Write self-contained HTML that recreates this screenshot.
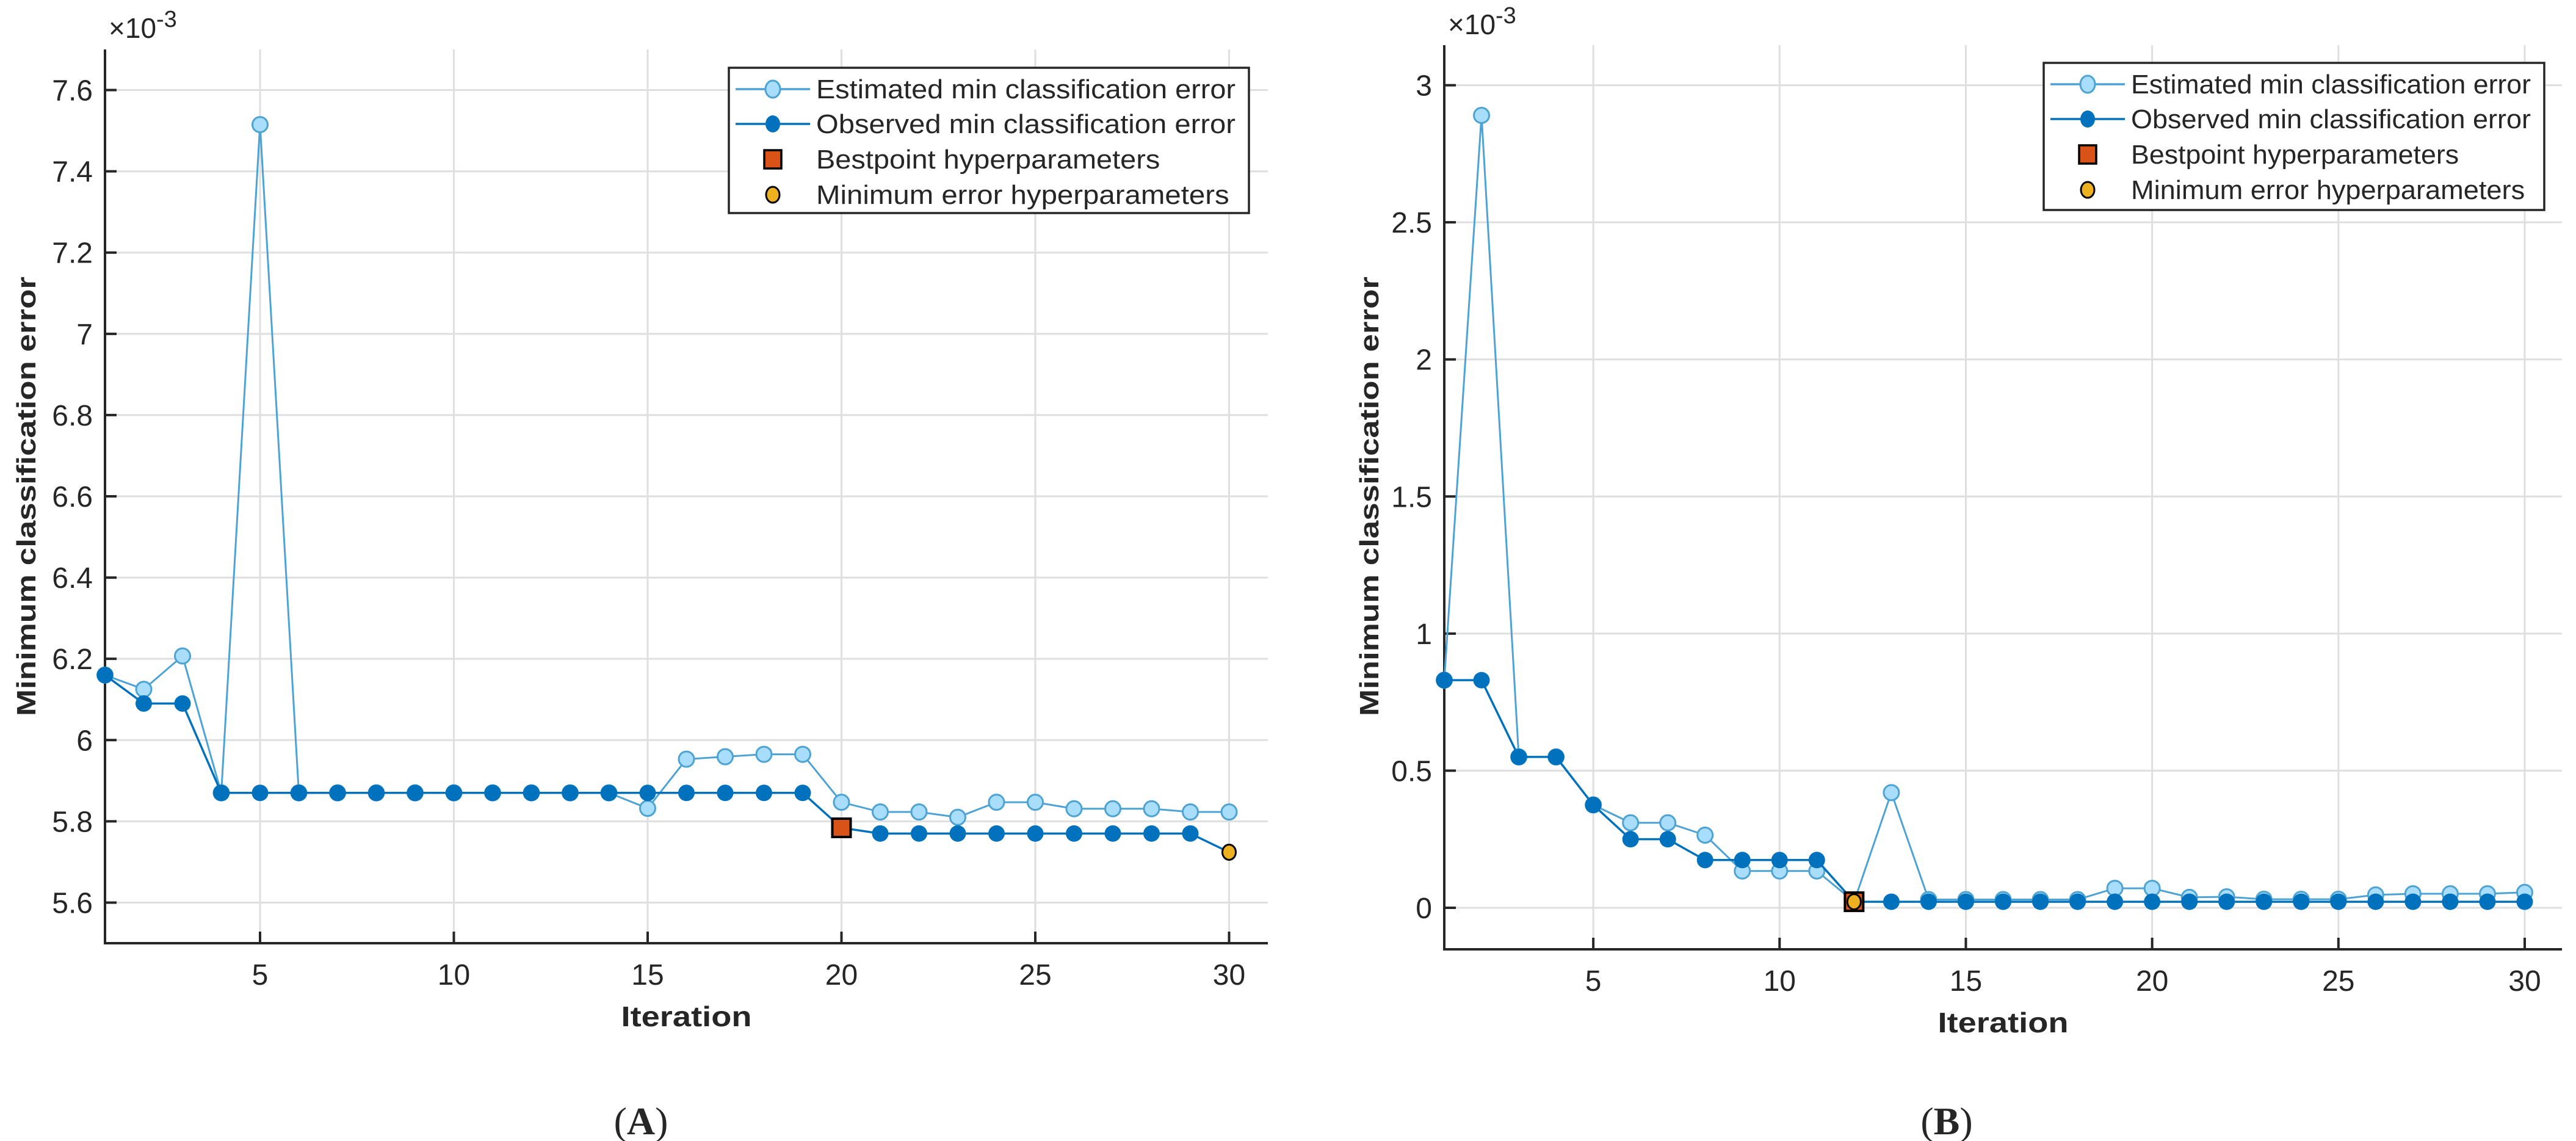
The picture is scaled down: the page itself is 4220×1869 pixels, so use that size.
<!DOCTYPE html>
<html><head><meta charset="utf-8">
<style>
html,body{margin:0;padding:0;background:#fff;}
svg{display:block;}
text{font-family:"Liberation Sans",sans-serif;fill:#262626;}
</style></head>
<body>
<svg id="fig" width="4220" height="1869" viewBox="0 0 4220 1869" xmlns="http://www.w3.org/2000/svg"></svg>
<script>
// ---- Data: chart A ----
const iterations = [1,2,3,4,5,6,7,8,9,10,11,12,13,14,15,16,17,18,19,20,21,22,23,24,25,26,27,28,29,30];
const estA = [6.16,6.125,6.207,5.87,7.515,5.87,5.87,5.87,5.87,5.87,5.87,5.87,5.87,5.87,5.832,5.953,5.959,5.965,5.965,5.847,5.823,5.823,5.81,5.847,5.847,5.831,5.831,5.831,5.823,5.823];
const obsA = [6.16,6.09,6.09,5.87,5.87,5.87,5.87,5.87,5.87,5.87,5.87,5.87,5.87,5.87,5.87,5.87,5.87,5.87,5.87,5.784,5.77,5.77,5.77,5.77,5.77,5.77,5.77,5.77,5.77,5.724];
const bestA = [20, 5.784];
const minA = [30, 5.724];
const yTicksA = [5.6,5.8,6,6.2,6.4,6.6,6.8,7,7.2,7.4,7.6];
const yTickLabelsA = ["5.6","5.8","6","6.2","6.4","6.6","6.8","7","7.2","7.4","7.6"];
// ---- Data: chart B ----
const estB = [0.83,2.89,0.55,0.55,0.375,0.31,0.31,0.265,0.134,0.134,0.134,0.022,0.42,0.03,0.03,0.03,0.03,0.03,0.071,0.071,0.038,0.04,0.031,0.031,0.031,0.047,0.051,0.051,0.051,0.056];
const obsB = [0.83,0.83,0.55,0.55,0.375,0.25,0.25,0.174,0.174,0.174,0.174,0.022,0.022,0.022,0.022,0.022,0.022,0.022,0.022,0.022,0.022,0.022,0.022,0.022,0.022,0.022,0.022,0.022,0.022,0.022];
const bestB = [12, 0.022];
const minB = [12, 0.022];
const yTicksB = [0,0.5,1,1.5,2,2.5,3];
const yTickLabelsB = ["0","0.5","1","1.5","2","2.5","3"];
const xTicks = [5,10,15,20,25,30];
const xTickLabels = ["5","10","15","20","25","30"];

const NS = "http://www.w3.org/2000/svg";
const fig = document.getElementById('fig');
function mk(tag, attrs, parent, txt){
  const e = document.createElementNS(NS, tag);
  for (const k in attrs) e.setAttribute(k, attrs[k]);
  if (txt !== undefined) e.textContent = txt;
  (parent||fig).appendChild(e);
  return e;
}

function chart(cfg, est, obs, best, minp, yTicks, yLabels){
  const g = mk('g', {});
  
  
  const L=cfg.L, R=cfg.R, T=cfg.T, B=cfg.B;
  const xs = v => L + (v - 1) / 30 * (R - L);
  const ys = v => B - (v - cfg.ymin) / (cfg.ymax - cfg.ymin) * (B - T);
  yTicks.forEach(t=>{
    const l = mk('line',{x1:L,x2:R,y1:ys(t),y2:ys(t),stroke:'#dfdfdf','stroke-width':3},g);
    
    
  });
  xTicks.forEach(t=>{
    const l = mk('line',{x1:xs(t),x2:xs(t),y1:T,y2:B,stroke:'#dfdfdf','stroke-width':3},g);
    
    
  });
  const ax = mk('path',{d:`M${L},${T} L${L},${B} L${R},${B}`,fill:'none',stroke:'#262626','stroke-width':4},g);
  
  
  yTicks.forEach((t,i)=>{
    mk('line',{x1:L,x2:L+19,y1:ys(t),y2:ys(t),stroke:'#262626','stroke-width':4},g);
    const tx = mk('text',{x:L-20,y:ys(t)+17,'text-anchor':'end','font-size':48},g,yLabels[i]);
    
    
  });
  xTicks.forEach((t,i)=>{
    mk('line',{x1:xs(t),x2:xs(t),y1:B,y2:B-19,stroke:'#262626','stroke-width':4},g);
    const tx = mk('text',{x:xs(t),y:B+68,'text-anchor':'middle','font-size':48},g,xTickLabels[i]);
    
    
  });
  const ex = mk('text',{x:cfg.expX,y:cfg.expY,'font-size':46},g);
  
  
  mk('tspan',{},ex,'\u00d710');
  mk('tspan',{dy:-18,'font-size':38},ex,'-3');
  const yt = mk('text',{x:0,y:0,'text-anchor':'middle','font-size':44,'font-weight':'bold',transform:`translate(${cfg.ylabX},813) rotate(-90)`,textLength:720,lengthAdjust:'spacingAndGlyphs'},g,'Minimum classification error');
  
  
  const xt = mk('text',{x:(L+R)/2,y:B+136,'text-anchor':'middle','font-size':46,'font-weight':'bold',textLength:214,lengthAdjust:'spacingAndGlyphs'},g,'Iteration');
  
  
  const ptsE = iterations.map((x,i)=>`${xs(x)},${ys(est[i])}`).join(' ');
  const pe = mk('polyline',{points:ptsE,fill:'none',stroke:'#4DA3D3','stroke-width':3},g);
  
  
  iterations.forEach((x,i)=>{
    const c = mk('circle',{cx:xs(x),cy:ys(est[i]),r:12.5,fill:'#A8DDFB',stroke:'#4DA3D3','stroke-width':3},g);
    
    
  });
  const ptsO = iterations.map((x,i)=>`${xs(x)},${ys(obs[i])}`).join(' ');
  const po = mk('polyline',{points:ptsO,fill:'none',stroke:'#0072BD','stroke-width':3.5},g);
  
  
  iterations.forEach((x,i)=>{
    if (x===minp[0] || x===best[0]) return;
    const c = mk('circle',{cx:xs(x),cy:ys(obs[i]),r:13.5,fill:'#0072BD'},g);
    
    
  });
  const sq = mk('rect',{x:xs(best[0])-15,y:ys(best[1])-15,width:30,height:30,fill:'#D95319',stroke:'#000','stroke-width':4},g);
  
  
  const mc = mk('ellipse',{cx:xs(minp[0]),cy:ys(minp[1]),rx:11,ry:12.5,fill:'#EDB120',stroke:'#000','stroke-width':3},g);
  
  
  const lg = mk('g',{},g);
  
  
  const lx=cfg.lgX, ly=cfg.lgY, lw=cfg.lgW, lh=cfg.lgH;
  mk('rect',{x:lx,y:ly,width:lw,height:lh,fill:'#fff',stroke:'#262626','stroke-width':3.5},lg);
  const rowY = [ly+35, ly+92, ly+150, ly+208];
  const names = ['Estimated min classification error','Observed min classification error','Bestpoint hyperparameters','Minimum error hyperparameters'];
  const tl = [lw-165, lw-165, (lw-165)*0.82, (lw-165)*0.985];
  const mx = lx+72;
  mk('line',{x1:lx+11,x2:lx+133,y1:rowY[0],y2:rowY[0],stroke:'#4DA3D3','stroke-width':3.5},lg);
  mk('ellipse',{cx:mx,cy:rowY[0],rx:12,ry:14,fill:'#A8DDFB',stroke:'#4DA3D3','stroke-width':3},lg);
  mk('line',{x1:lx+11,x2:lx+133,y1:rowY[1],y2:rowY[1],stroke:'#0072BD','stroke-width':3.5},lg);
  mk('ellipse',{cx:mx,cy:rowY[1],rx:12,ry:14,fill:'#0072BD'},lg);
  mk('rect',{x:mx-14,y:rowY[2]-15,width:28,height:30,fill:'#D95319',stroke:'#000','stroke-width':3.5},lg);
  mk('ellipse',{cx:mx,cy:rowY[3],rx:11,ry:13,fill:'#EDB120',stroke:'#000','stroke-width':3},lg);
  names.forEach((n,i)=>{
    const t = mk('text',{x:lx+143,y:rowY[i]+15,'font-size':44,fill:'#000',textLength:tl[i],lengthAdjust:'spacingAndGlyphs'},lg,n);
    
    
  });
  const pl = mk('text',{x:cfg.panelX,y:1858,'text-anchor':'middle','font-size':64,style:'font-family:"Liberation Serif",serif',fill:'#000'},g);
  
  
  mk('tspan',{},pl,'(');
  mk('tspan',{'font-weight':'bold'},pl,cfg.panel);
  mk('tspan',{},pl,')');
}

chart({name:'chart-a',L:172,R:2077,T:81,B:1545,ymin:5.5,ymax:7.7,expX:178,expY:62,ylabX:58,
  lgX:1194,lgY:111,lgW:852,lgH:238,panelX:1050,panel:'A'}, estA, obsA, bestA, minA, yTicksA, yTickLabelsA);
chart({name:'chart-b',L:2366,R:4197,T:74,B:1555,ymin:-0.1515,ymax:3.146,expX:2372,expY:56,ylabX:2258,
  lgX:3348,lgY:103,lgW:820,lgH:241,panelX:3189,panel:'B'}, estB, obsB, bestB, minB, yTicksB, yTickLabelsB);
</script>
</body></html>
